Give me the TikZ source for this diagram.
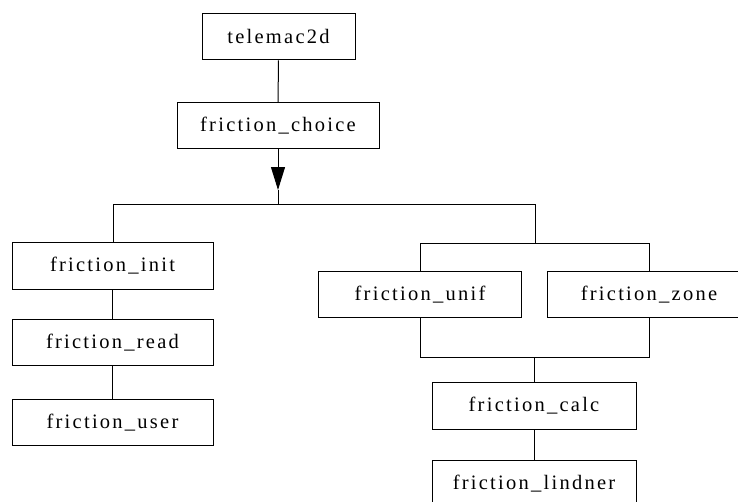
\documentclass[tikz,border=0pt]{standalone}
\usepackage{fontspec}
\newfontfamily\boxfont{Liberation Serif}[LetterSpace=11]
\usetikzlibrary{arrows.meta}
\begin{document}
\begin{tikzpicture}[x=1pt,y=-1pt,
  box/.style={draw,line width=1pt,minimum width=202pt,minimum height=46.5pt,inner sep=0pt,
    font=\boxfont\fontsize{20.5}{24}\selectfont},
  conn/.style={line width=1pt}]
\useasboundingbox (0,0) rectangle (738,501);
\clip (0,0) rectangle (738,501);
\node[box,minimum width=153pt] (tele) at (278.5,36.5) {telemac2d};
\node[box] (choice) at (278,125.5) {friction\_choice};
\node[box,minimum width=201pt] (init) at (112.5,266) {friction\_init};
\node[box,minimum width=201pt] (read) at (112.5,342.5) {friction\_read};
\node[box,minimum width=201pt] (user) at (112.5,422.5) {friction\_user};
\node[box,minimum width=203pt] (unif) at (420,294.5) {friction\_unif};
\node[box,minimum width=203pt] (zone) at (649,294.5) {friction\_zone};
\node[box,minimum width=204pt] (calc) at (534,406) {friction\_calc};
\node[box,minimum width=204pt] (lind) at (534,483.5) {friction\_lindner};
\coordinate (j0) at (278,204);
\coordinate (jt) at (278,190);
\coordinate (jl) at (113,204);
\coordinate (jr) at (535,204);
\coordinate (k0) at (535,243);
\coordinate (kl) at (420,243);
\coordinate (kr) at (649,243);
\coordinate (ml) at (420,357);
\coordinate (mr) at (649,357);
\coordinate (m0) at (534,357);
\draw[conn] (tele) -- (choice);
\draw[conn,-{Triangle[length=23pt,width=14pt]}] (choice.south) -- (jt);
\draw[conn] (jt) -- (j0);
\draw[conn] (jl |- init.north) -- (jl) -- (jr) -- (k0);
\draw[conn] (init) -- (read);
\draw[conn] (read) -- (user);
\draw[conn] (unif.north) -- (kl) -- (kr) -- (zone.north);
\draw[conn] (unif.south) -- (ml) -- (mr) -- (zone.south);
\draw[conn] (m0) -- (calc.north);
\draw[conn] (calc) -- (lind);
\end{tikzpicture}
\end{document}
